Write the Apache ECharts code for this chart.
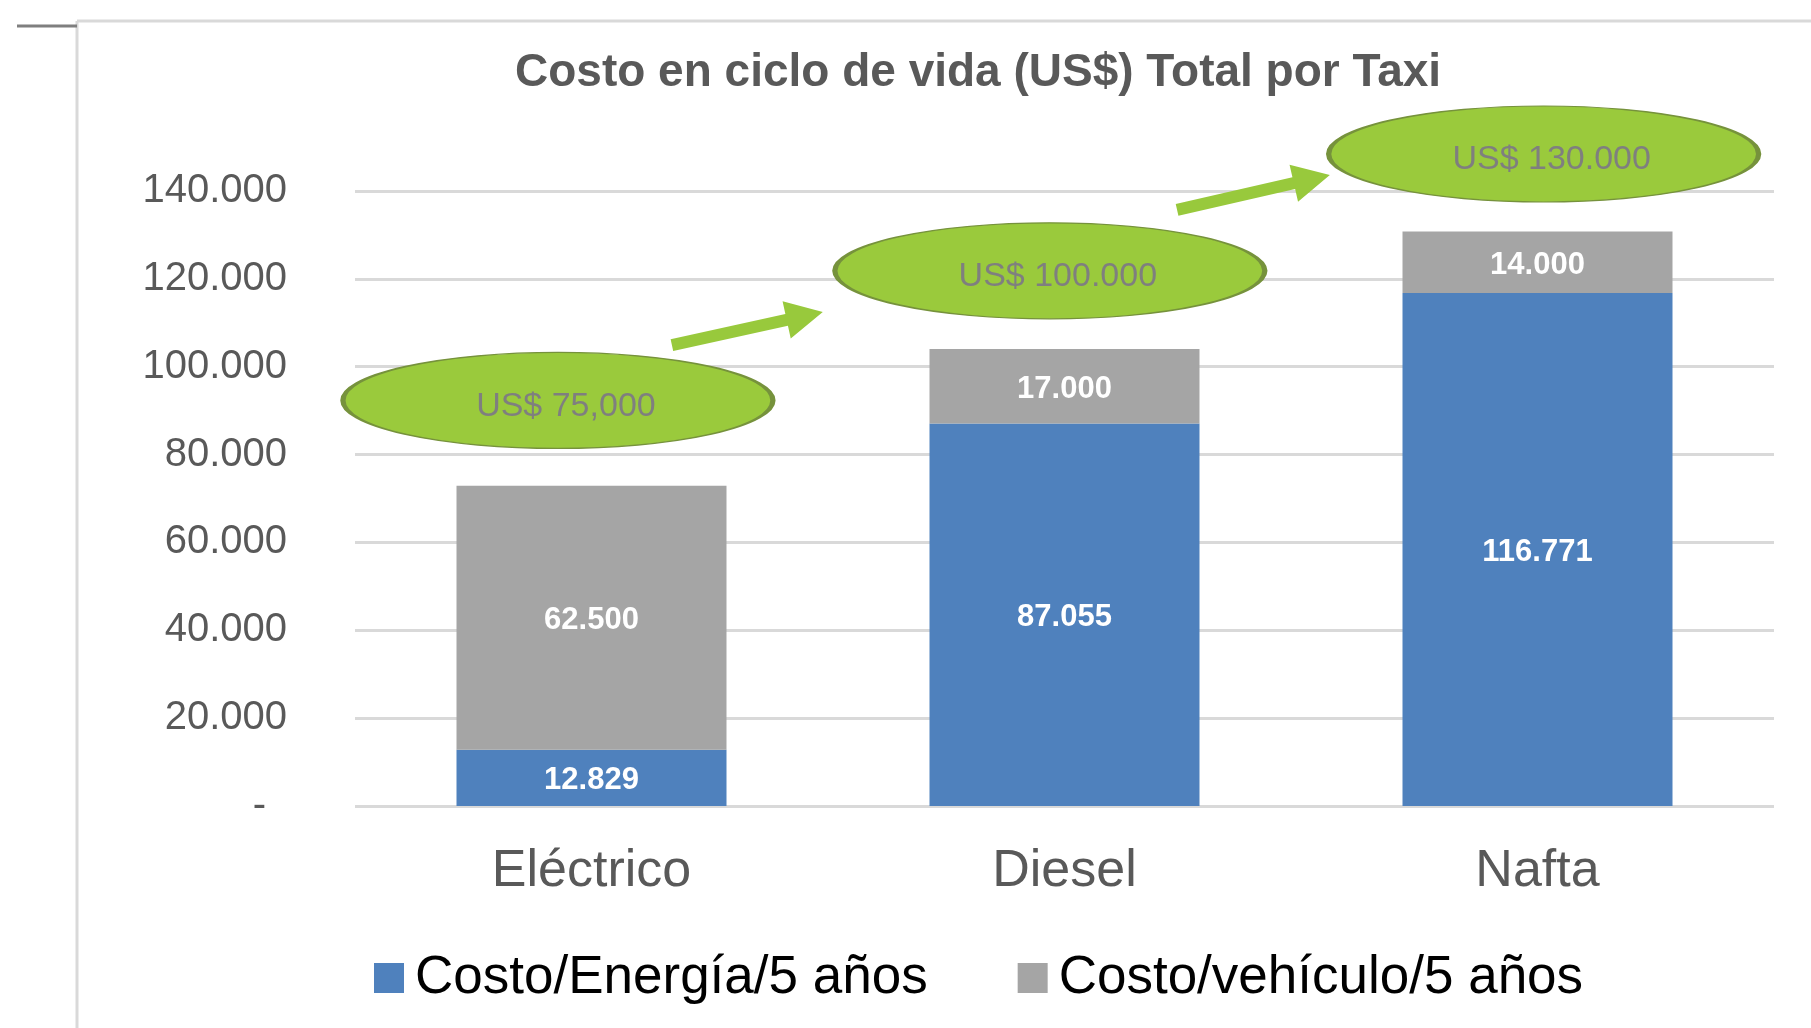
<!DOCTYPE html>
<html>
<head>
<meta charset="utf-8">
<script src="https://cdn.jsdelivr.net/npm/echarts@6/dist/echarts.min.js"></script>
<style>
  html, body { margin: 0; padding: 0; background: #fff; }
  .chart-panel { width: 1811px; height: 1028px; }
</style>
</head>
<body>
<div class="chart-panel" id="chart-panel"></div>
<script>
// datos
const categories = ["Eléctrico", "Diesel", "Nafta"]
const seriesNames = ["Costo/Energía/5 años", "Costo/vehículo/5 años"]
const energia = [12829, 87055, 116771]
// la barra gris de Eléctrico esta dibujada mas baja que su etiqueta (62.500)
const vehiculo = [60100, 17000, 14000]
const energiaLabels = ["12.829", "87.055", "116.771"]
const vehiculoLabels = ["62.500", "17.000", "14.000"]
const yMin = 0
const yMax = 140000
const yStep = 20000

// globos verdes (eje oculto x: 0..3, y: 0..160000)
const calloutText = ["US$ 75,000", "US$ 100.000", "US$ 130.000"]
const calloutX = [0.429, 1.469, 2.513]
const calloutY = [92300, 121800, 148400]
// flechas: [x desde, y desde, x hasta, y hasta]
const arrows = [
  [0.670, 104900, 0.989, 112450],
  [1.738, 135670, 2.061, 143640]
]

const font = "'Liberation Sans', Arial, sans-serif"
const fmt = (v) => {
  if (v === 0) return "{z|-}"
  return String(v).replace(/\B(?=(\d{3})+(?!\d))/g, ".")
}

let chart = null
const initChart = () => {
  if (!chart) {
    chart = echarts.init(document.getElementById("chart-panel"))
  }
}

const arrowItem = (params, api) => {
  const p0 = api.coord([api.value(0), api.value(1)])
  const p1 = api.coord([api.value(2), api.value(3)])
  const dx = p1[0] - p0[0]
  const dy = p1[1] - p0[1]
  const len = Math.sqrt(dx * dx + dy * dy)
  const ux = dx / len, uy = dy / len
  const nx = -uy, ny = ux
  const sw = 6, hw = 19, hl = 37
  const bx = p1[0] - ux * hl, by = p1[1] - uy * hl
  return {
    type: "polygon",
    shape: {
      points: [
        [p0[0] + nx * sw, p0[1] + ny * sw],
        [bx + nx * sw, by + ny * sw],
        [bx + nx * hw, by + ny * hw],
        p1,
        [bx - nx * hw, by - ny * hw],
        [bx - nx * sw, by - ny * sw],
        [p0[0] - nx * sw, p0[1] - ny * sw]
      ]
    },
    style: { fill: "#98C93C" }
  }
}

const barLabel = (labels) => ({
  show: true,
  position: "inside",
  offset: [0, 3],
  color: "#fff",
  fontFamily: font,
  fontSize: 31,
  fontWeight: "bold",
  formatter: (p) => labels[p.dataIndex]
})

const setOption = () => {
  const options = {
    animation: false,
    textStyle: { fontFamily: font },
    title: {
      text: "Costo en ciclo de vida (US$) Total por Taxi",
      left: 510,
      top: 41,
      textStyle: {
        fontFamily: font,
        fontSize: 46,
        fontWeight: "bold",
        color: "#595959",
        lineHeight: 54
      }
    },
    legend: {
      left: 369,
      top: 945,
      icon: "rect",
      itemWidth: 30,
      itemHeight: 30,
      itemGap: 90,
      data: seriesNames,
      textStyle: {
        fontFamily: font,
        fontSize: 53,
        color: "#000",
        lineHeight: 56,
        padding: [0, 0, 0, 6]
      }
    },
    grid: [
      { left: 355, right: 37, top: 191, bottom: 222 },
      { left: 355, right: 37, top: 103, bottom: 222 }
    ],
    xAxis: [
      {
        type: "category",
        data: categories,
        gridIndex: 0,
        axisLine: { show: false },
        axisTick: { show: false },
        axisLabel: {
          fontFamily: font,
          fontSize: 52,
          color: "#595959",
          margin: 40
        }
      },
      { type: "value", gridIndex: 1, min: 0, max: 3, show: false }
    ],
    yAxis: [
      {
        type: "value",
        gridIndex: 0,
        min: yMin,
        max: yMax,
        interval: yStep,
        axisLine: { show: false },
        axisTick: { show: false },
        axisLabel: {
          fontFamily: font,
          fontSize: 40,
          color: "#595959",
          margin: 68,
          formatter: fmt,
          rich: {
            z: { fontSize: 40, color: "#595959", padding: [0, 21, 0, 0] }
          }
        },
        splitLine: { lineStyle: { color: "#d9d9d9", width: 3 } }
      },
      { type: "value", gridIndex: 1, min: 0, max: 160000, show: false }
    ],
    color: ["#4F81BD", "#A5A5A5"],
    series: [
      {
        name: seriesNames[0],
        type: "bar",
        stack: "total",
        barWidth: 270,
        data: energia,
        label: barLabel(energiaLabels)
      },
      {
        name: seriesNames[1],
        type: "bar",
        stack: "total",
        barWidth: 270,
        data: vehiculo,
        label: barLabel(vehiculoLabels)
      },
      {
        type: "custom",
        xAxisIndex: 1,
        yAxisIndex: 1,
        silent: true,
        z: 5,
        encode: { x: [0, 2], y: [1, 3] },
        renderItem: arrowItem,
        data: arrows
      },
      {
        type: "scatter",
        xAxisIndex: 1,
        yAxisIndex: 1,
        silent: true,
        clip: false,
        z: 6,
        symbol: "circle",
        symbolSize: [430, 96],
        itemStyle: {
          color: "#9ACA3C",
          borderColor: "#76923C",
          borderWidth: 2.5,
          opacity: 1
        },
        label: {
          show: true,
          position: "inside",
          offset: [8, 6],
          fontFamily: font,
          fontSize: 34,
          color: "#7F7F7F",
          formatter: (p) => p.data[2]
        },
        data: calloutX.map((x, i) => [x, calloutY[i], calloutText[i]])
      }
    ],
    graphic: [
      { type: "line", shape: { x1: 77, y1: 21, x2: 1811, y2: 21 }, style: { stroke: "#d9d9d9", lineWidth: 3 } },
      { type: "line", shape: { x1: 77, y1: 21, x2: 77, y2: 1028 }, style: { stroke: "#d9d9d9", lineWidth: 3 } },
      { type: "line", shape: { x1: 17, y1: 26, x2: 77, y2: 26 }, style: { stroke: "#7f7f7f", lineWidth: 3 } }
    ]
  }
  chart.setOption(options)
}

initChart()
setOption()
</script>
</body>
</html>
